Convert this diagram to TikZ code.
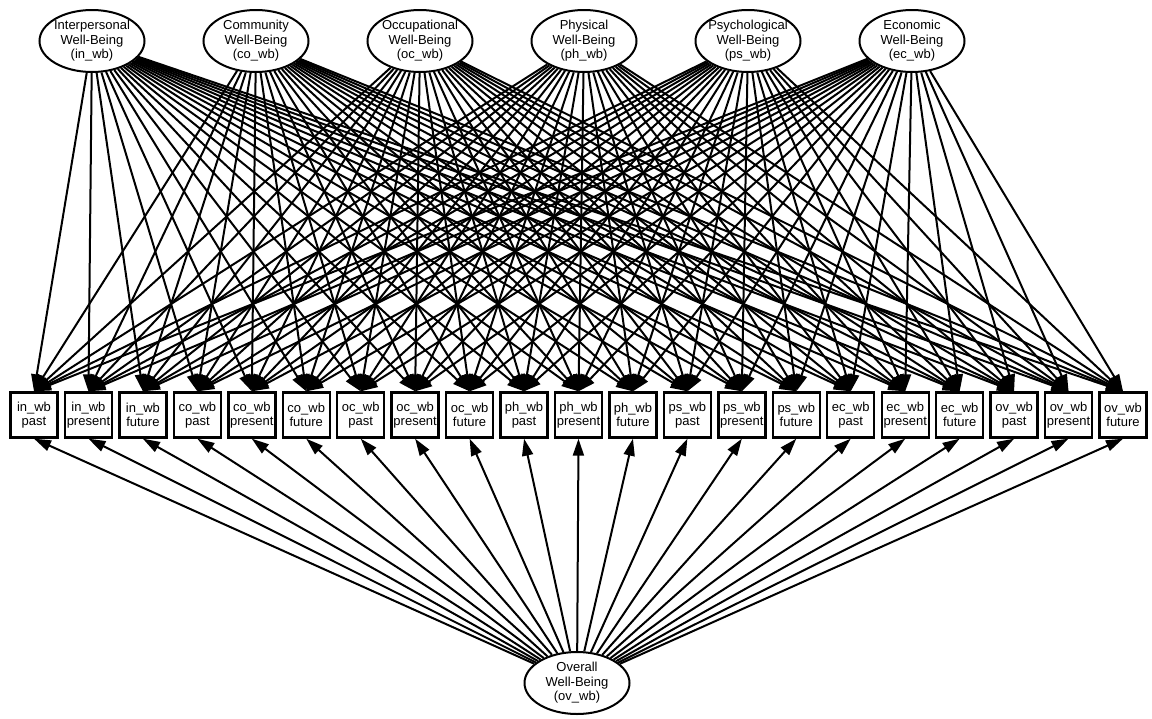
\documentclass[tikz,border=0pt]{standalone}
\usepackage{fontspec}
\setmainfont{Liberation Sans}
\usetikzlibrary{shapes.geometric,arrows.meta}

\tikzset{
  latent/.style={draw, ellipse, fill=white, line width=2pt,
    minimum width=105pt, minimum height=62pt, inner xsep=-12pt, inner ysep=0pt,
    align=center, font=\fontsize{13}{14.5}\selectfont},
  observed/.style={draw, rectangle, fill=white, line width=2.4pt,
    minimum width=47pt, minimum height=45pt, inner sep=0pt,
    align=center, font=\fontsize{13}{13.5}\selectfont},
  loading/.style={line width=2pt, -{Triangle[length=17pt,width=11pt]}}
}

\begin{document}
\begin{tikzpicture}[x=1pt,y=-1pt]
  \useasboundingbox (0,0) rectangle (1152,718);
  % latent factors
  \foreach \f/\name [count=\j from 0] in {in/Interpersonal, co/Community, oc/Occupational,
      ph/Physical, ps/Psychological, ec/Economic}
    \node[latent] (\f) at ({92+164*\j},41) {\name\\Well-Being\\(\f\_wb)};
  \node[latent] (ov) at (577,683) {Overall\\Well-Being\\(ov\_wb)};
  % observed indicators
  \foreach \f [count=\j from 0] in {in,co,oc,ph,ps,ec,ov}
    \foreach \t [count=\k from 0] in {past,present,future}
      \node[observed] (\f-\t) at ({34+54.45*(3*\j+\k)},415) {\f\_wb\\\t};
  % loadings
  \foreach \f in {in,co,oc,ph,ps,ec}
    \foreach \g in {in,co,oc,ph,ps,ec,ov}
      \foreach \t in {past,present,future}
        \draw[loading] (\f) -- (\g-\t.north);
  \foreach \g in {in,co,oc,ph,ps,ec,ov}
    \foreach \t in {past,present,future}
      \draw[loading] (ov) -- (\g-\t.south);
\end{tikzpicture}
\end{document}
